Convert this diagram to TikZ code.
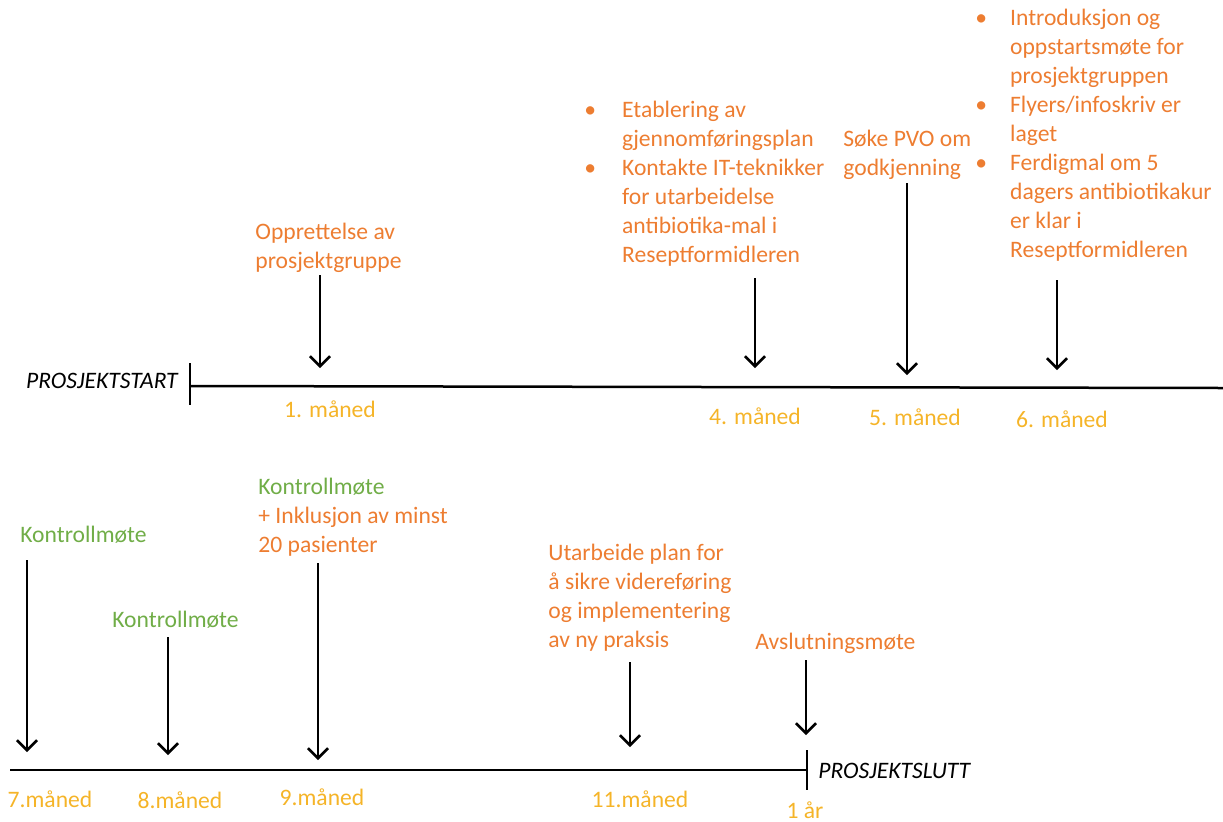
\documentclass[tikz,border=0pt]{standalone}
\usepackage{fontspec}
\setmainfont{Carlito}
\usetikzlibrary{arrows.meta}

\newcommand\linjer[1]{\begin{tabular}[t]{@{}l@{}}#1\end{tabular}}
\newcommand\punkter[2]{\begin{tabular}[t]{@{}l@{\hspace{#1}}l@{}}#2\end{tabular}}

\begin{document}
\begin{tikzpicture}[x=0.5pt,y=-0.5pt,
	pil/.style={-{Straight Barb[length=5pt,width=10pt]},line width=1.25pt},
	akse/.style={line width=1.25pt},
	tekst/.style={inner sep=0pt,anchor=base west,font=\fontsize{11.8}{14.5}\selectfont},
	hendelse/.style={tekst,text=oransje},
	kontroll/.style={tekst,text=gronn},
	maaned/.style={tekst,anchor=base,text=gul},
	endepunkt/.style={tekst,font=\fontsize{11.8}{14.5}\selectfont\itshape}]
	
	\definecolor{oransje}{RGB}{237,125,49}
	\definecolor{gronn}{RGB}{112,173,71}
	\definecolor{gul}{RGB}{245,180,40}
	
	\useasboundingbox (0,0) rectangle (1223,821);
	
	% forste linje
	\coordinate (start) at (190,386);
	\coordinate (starttopp) at (190,363);
	\coordinate (startbunn) at (190,405);
	\coordinate (linje1slutt) at (1223,388);
	\draw[akse] (start) -- (linje1slutt);
	\draw[akse] (starttopp) -- (startbunn);
	\node[endepunkt, anchor=base east] (prosjektstart) at (178,388) {PROSJEKTSTART};
	
	\node[hendelse] (gruppe) at (255,239) {\linjer{Opprettelse av\\ prosjektgruppe}};
	\node[hendelse] (plan) at (584,117) {\punkter{13pt}{\textbullet & Etablering av\\
		& gjennomføringsplan\\
		\textbullet & Kontakte IT-teknikker\\
		& for utarbeidelse\\
		& antibiotika-mal i\\
		& Reseptformidleren}};
	\node[hendelse] (pvo) at (843,146) {\linjer{Søke PVO om\\ godkjenning}};
	\node[hendelse] (oppstart) at (975,25) {\punkter{11.5pt}{\textbullet & Introduksjon og\\
		& oppstartsmøte for\\
		& prosjektgruppen\\
		\textbullet & Flyers/infoskriv er\\
		& laget\\
		\textbullet & Ferdigmal om 5\\
		& dagers antibiotikakur\\
		& er klar i\\
		& Reseptformidleren}};
	
	\coordinate (p1) at (320,275); \coordinate (m1) at (320,368);
	\coordinate (p4) at (755,278); \coordinate (m4) at (755,368);
	\coordinate (p5) at (907,183); \coordinate (m5) at (907,375);
	\coordinate (p6) at (1057,280); \coordinate (m6) at (1057,370);
	\draw[pil] (p1) -- (m1);
	\draw[pil] (p4) -- (m4);
	\draw[pil] (p5) -- (m5);
	\draw[pil] (p6) -- (m6);
	
	\node[maaned] (maaned1) at (330,417) {1. måned};
	\node[maaned] (maaned4) at (755,424) {4. måned};
	\node[maaned] (maaned5) at (915,425) {5. måned};
	\node[maaned] (maaned6) at (1062,427) {6. måned};
	
	% andre linje
	\coordinate (linje2start) at (10,770);
	\coordinate (slutt) at (807,770);
	\coordinate (sluttopp) at (807,750);
	\coordinate (sluttbunn) at (807,790);
	\draw[akse] (linje2start) -- (slutt);
	\draw[akse] (sluttopp) -- (sluttbunn);
	\node[endepunkt] (prosjektslutt) at (818,778) {PROSJEKTSLUTT};
	
	\node[kontroll] (kontroll7) at (20,542) {Kontrollmøte};
	\node[kontroll] (kontroll8) at (112,627) {Kontrollmøte};
	\node[hendelse] (kontroll9) at (258,494) {\linjer{\textcolor{gronn}{Kontrollmøte}\\
		+ Inklusjon av minst\\ 20 pasienter}};
	\node[hendelse] (videre) at (548,560) {\linjer{Utarbeide plan for\\
		å sikre videreføring\\ og implementering\\ av ny praksis}};
	\node[hendelse] (avslutning) at (755,649) {Avslutningsmøte};
	
	\coordinate (p7) at (27,560); \coordinate (m7) at (27,752);
	\coordinate (p8) at (168,637); \coordinate (m8) at (168,755);
	\coordinate (p9) at (318,563); \coordinate (m9) at (318,760);
	\coordinate (p11) at (630,662); \coordinate (m11) at (630,747);
	\coordinate (p12) at (806,660); \coordinate (m12) at (806,735);
	\draw[pil] (p7) -- (m7);
	\draw[pil] (p8) -- (m8);
	\draw[pil] (p9) -- (m9);
	\draw[pil] (p11) -- (m11);
	\draw[pil] (p12) -- (m12);
	
	\node[maaned] (maaned7) at (50,807) {7.måned};
	\node[maaned] (maaned8) at (180,808) {8.måned};
	\node[maaned] (maaned9) at (322,805) {9.måned};
	\node[maaned] (maaned11) at (640,807) {11.måned};
	\node[maaned] (aar) at (805,818) {1 år};
\end{tikzpicture}
\end{document}
